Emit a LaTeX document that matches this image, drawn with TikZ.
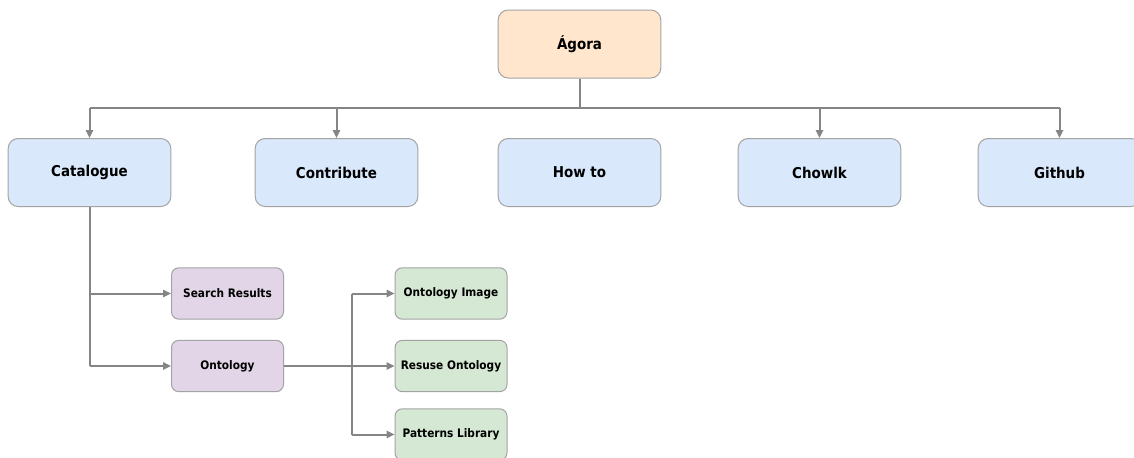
\documentclass[tikz,border=0pt]{standalone}
\usepackage{fontspec}
\setmainfont{DejaVu Sans}[FakeStretch=0.9]
\usetikzlibrary{arrows.meta}
\definecolor{linegray}{HTML}{858585}
\definecolor{boxedge}{HTML}{A3A3A3}
\definecolor{orangefill}{HTML}{FFE6CC}
\definecolor{bluefill}{HTML}{DAE8FC}
\definecolor{purplefill}{HTML}{E1D5E7}
\definecolor{greenfill}{HTML}{D5E8D4}
\tikzset{
  bigbox/.style={draw=boxedge, line width=0.75pt, rounded corners=7.5pt,
    minimum width=122pt, minimum height=51pt, inner sep=0pt,
    font=\bfseries\fontsize{11.2}{13}\selectfont},
  smallbox/.style={draw=boxedge, line width=0.75pt, rounded corners=5.5pt,
    minimum width=84pt, minimum height=38.5pt, inner sep=0pt,
    font=\bfseries\fontsize{8.8}{10}\selectfont},
  link/.style={draw=linegray, line width=1.5pt},
  arrowlink/.style={link, -{Triangle[length=6pt,width=5.5pt]}},
}
\begin{document}
\begin{tikzpicture}[x=0.75pt, y=-0.75pt]
\useasboundingbox (0,0) rectangle (1134,457);

% top level
\node[bigbox, fill=orangefill] (agora) at (579.5,44) {Ágora};

% second level
\node[bigbox, fill=bluefill] (catalogue)  at (89.5,172.5)  {Catalogue};
\node[bigbox, fill=bluefill] (contribute) at (336.5,172.5) {Contribute};
\node[bigbox, fill=bluefill] (howto)      at (579.5,172.5) {How to};
\node[bigbox, fill=bluefill] (chowlk)     at (819.5,172.5) {Chowlk};
\node[bigbox, fill=bluefill] (github)     at (1059.5,172.5) {Github};

% catalogue pages
\node[smallbox, fill=purplefill] (search)   at (227.5,293.5) {Search Results};
\node[smallbox, fill=purplefill] (ontology) at (227.5,366)   {Ontology};

% ontology pages
\node[smallbox, fill=greenfill] (ontimage) at (451,293.5) {Ontology Image};
\node[smallbox, fill=greenfill] (reuse)    at (451,366)   {Resuse Ontology};
\node[smallbox, fill=greenfill] (patterns) at (451,434.5) {Patterns Library};

% bus under the root
\coordinate (bus) at (579.5,107.5);
\draw[link] (agora.south) -- (bus);
\draw[link] (catalogue.north |- bus) -- (github.north |- bus);
\draw[arrowlink] (catalogue.north |- bus) -- (catalogue.north);
\draw[arrowlink] (contribute.north |- bus) -- (contribute.north);
\draw[arrowlink] (chowlk.north |- bus) -- (chowlk.north);
\draw[arrowlink] (github.north |- bus) -- (github.north);

% catalogue branches
\draw[link] (catalogue.south) -- (catalogue.south |- ontology.west);
\draw[arrowlink] (catalogue.south |- search.west) -- (search.west);
\draw[arrowlink] (catalogue.south |- ontology.west) -- (ontology.west);

% ontology branches
\coordinate (split) at (351.5,366);
\draw[link] (ontology.east) -- (split);
\draw[link] (split |- ontimage.west) -- (split |- patterns.west);
\draw[arrowlink] (split |- ontimage.west) -- (ontimage.west);
\draw[arrowlink] (split) -- (reuse.west);
\draw[arrowlink] (split |- patterns.west) -- (patterns.west);
\end{tikzpicture}
\end{document}
